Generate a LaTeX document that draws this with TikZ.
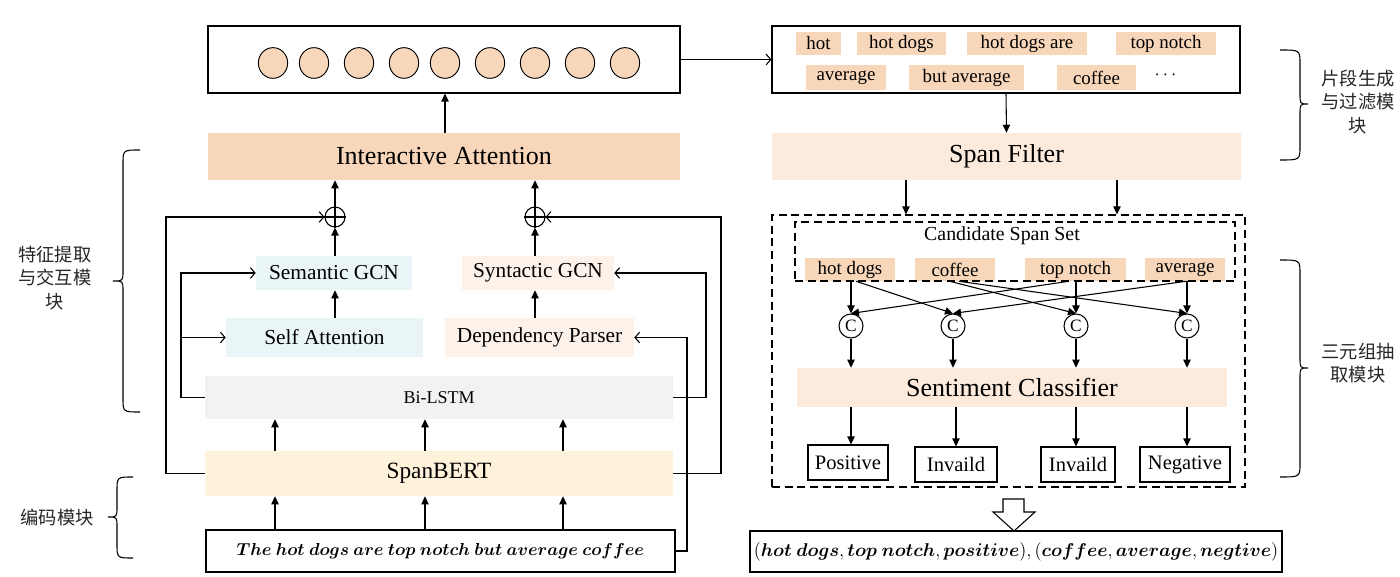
\RequirePackage{fix-cm}
\documentclass[tikz,border=0pt]{standalone}
\usepackage{amsmath}
\usepackage{bm}
\usepackage{fontspec}
\setmainfont{Liberation Serif}
\newfontfamily\cjk{Noto Sans CJK SC}
\usetikzlibrary{arrows.meta,shapes.geometric}
\definecolor{peach}{HTML}{F8D6BA}
\definecolor{peachL}{HTML}{FCEADC}
\definecolor{blueL}{HTML}{EAF5F8}
\definecolor{peachXL}{HTML}{FDF2E9}
\definecolor{grayL}{HTML}{F2F2F2}
\definecolor{yellowL}{HTML}{FFF2DB}
\newcommand\bx[7]{\node[#6,minimum width={(#4-#2)*0.75pt},minimum height={(#5-#3)*0.75pt},inner sep=0pt] (#1) at ({(#2+#4)/2},{(#3+#5)/2}) {#7};}
\newcommand\mybrc[6]{\draw[brc] (#1,#4) .. controls (#2,#4) .. (#2,#4+14) -- (#2,#5-10) .. controls (#2,#5) .. (#3,#5) .. controls (#2,#5) .. (#2,#5+10) -- (#2,#6-14) .. controls (#2,#6) .. (#1,#6);}
\tikzset{
 arr/.style={line width=0.8pt,-{Triangle[length=6pt,width=5.5pt]}},
 oarr/.style={line width=0.8pt,-{Straight Barb[length=3.5pt,width=8pt]}},
 big/.style={font=\fontsize{19.5}{23}\selectfont},
 mid/.style={font=\fontsize{16}{19}\selectfont},
 outbox/.style={draw,line width=0.8pt},
 chip/.style={fill=peach,font=\fontsize{14.2}{17}\selectfont},
 resbox/.style={draw,line width=0.8pt,font=\fontsize{15.4}{18}\selectfont},
 dashbox/.style={draw,line width=0.8pt,dash pattern=on 6pt off 3.5pt},
 cjkt/.style={font=\fontsize{13.7}{17.5}\selectfont\cjk,align=center,text=black!85},
 cc/.style={circle,draw,line width=0.8pt,minimum size=18pt,inner sep=0pt,fill=white,font=\fontsize{13}{15}\selectfont},
 dot/.style={ellipse,draw,line width=0.7pt,fill=peach,minimum width=22pt,minimum height=23pt,inner sep=0pt},
 oplus/.style={circle,draw,line width=0.8pt,minimum size=15pt,inner sep=0pt},
 brc/.style={line width=0.8pt},
}
\begin{document}
\begin{tikzpicture}[x=0.75pt,y=-0.75pt]
\useasboundingbox (0,0) rectangle (1400,577);
% ---------- left column ----------
\bx{top}{208}{26}{680}{93}{outbox}{}
\foreach \i/\x in {1/273,2/314,3/359,4/404,5/445,6/490,7/535,8/580,9/625}
  \node[dot] (d\i) at (\x,63) {};
\bx{ia}{208}{133}{680}{180}{fill=peach,big}{Interactive Attention}
\node[oplus] (p1) at (335,217) {};
\draw[line width=0.8pt] (p1.north)--(p1.south) (p1.west)--(p1.east);
\node[oplus] (p2) at (535,217) {};
\draw[line width=0.8pt] (p2.north)--(p2.south) (p2.west)--(p2.east);
\bx{sem}{256}{256}{412}{290}{fill=blueL,mid}{Semantic GCN}
\bx{syn}{462}{256}{614}{290}{fill=peachXL,mid}{Syntactic GCN}
\bx{sa}{226}{318}{423}{357}{fill=blueL,mid}{Self Attention}
\bx{dep}{445}{318}{634}{357}{fill=peachXL,mid}{Dependency Parser}
\bx{bil}{205}{376}{673}{419}{fill=grayL,font=\fontsize{13.5}{16}\selectfont}{Bi-LSTM}
\bx{sb}{205}{451}{673}{496}{fill=yellowL,font=\fontsize{17.5}{21}\selectfont}{SpanBERT}
\bx{sent}{206}{530}{675}{572}{outbox,font=\fontsize{13}{15}\selectfont}{$\bm{The\ hot\ dogs\ are\ top\ notch\ but\ average\ coffee}$}
\coordinate (k1) at (275,0);
\coordinate (k2) at (425,0);
\coordinate (k3) at (563,0);
\foreach \k in {k1,k2,k3}{
  \draw[arr] (sent.north -| \k) -- (sb.south -| \k);
  \draw[arr] (sb.north -| \k) -- (bil.south -| \k);
}
\draw[arr] (ia.north -| d5) -- (top.south -| d5);
\draw[arr] (p1.north) -- (p1.north |- ia.south);
\draw[arr] (p2.north) -- (p2.north |- ia.south);
\draw[arr] (sem.north -| p1) -- (p1.south);
\draw[arr] (syn.north -| p2) -- (p2.south);
\draw[arr] (sa.north -| p1) -- (sem.south -| p1);
\draw[arr] (dep.north -| p2) -- (syn.south -| p2);
\coordinate (lo) at (166,0);
\coordinate (li) at (181,0);
\coordinate (ri) at (706,0);
\coordinate (di) at (687,0);
\coordinate (ro) at (721,0);
\draw[oarr] (sb.west) -- (sb.west -| lo) |- (p1.west);
\draw[oarr] (sb.east) -- (sb.east -| ro) |- (p2.east);
\draw[oarr] (bil.west) -- (bil.west -| li) |- (sem.west);
\draw[oarr] (li |- sa.west) -- (sa.west);
\draw[oarr] (bil.east) -- (bil.east -| ri) |- (syn.east);
\draw[oarr] (sent.east) -- (sent.east -| di) |- (dep.east);
% ---------- right column ----------
\bx{spans}{772}{26}{1240}{93}{outbox}{}
\draw[oarr] (top.east) -- (spans.west);
\bx{s1}{796}{32}{841}{55}{chip}{hot}
\bx{s2}{857}{32}{946}{55}{chip}{hot dogs}
\bx{s3}{967}{32}{1087}{55}{chip}{hot dogs are}
\bx{s4}{1116}{32}{1216}{55}{chip}{top notch}
\bx{s5}{806}{65}{886}{90}{chip}{average}
\bx{s6}{909}{65}{1024}{90}{chip}{but average}
\bx{s7}{1057}{65}{1136}{90}{chip}{coffee}
\node[font=\fontsize{14}{16}\selectfont] (more) at (1167,75) {$\cdots$};
\bx{filt}{772}{133}{1241}{180}{fill=peachL,big}{Span Filter}
\draw[arr] (spans.south) -- (filt.north);
\bx{tri}{772}{215}{1245}{487}{dashbox}{}
\coordinate (f1) at (906,0);
\coordinate (f2) at (1117,0);
\draw[arr] (filt.south -| f1) -- (tri.north -| f1);
\draw[arr] (filt.south -| f2) -- (tri.north -| f2);
\bx{hd}{805}{258}{895}{281}{chip}{hot dogs}
\bx{cf}{915}{258}{995}{281}{chip}{coffee}
\bx{tn}{1025}{258}{1126}{281}{chip}{top notch}
\bx{av}{1145}{258}{1225}{281}{chip}{average}
\bx{cand}{795}{222}{1235}{281}{dashbox}{}
\node[font=\fontsize{14.9}{17}\selectfont] (candt) at (1002,236) {Candidate Span Set};
\node[cc] (c1) at (851,326) {C};
\node[cc] (c2) at (953,326) {C};
\node[cc] (c3) at (1076,326) {C};
\node[cc] (c4) at (1187,326) {C};
\draw[arr] (hd.south -| c1) -- (c1.north);
\draw[arr] ([xshift=4.5pt]hd.south) -- (c2.north);
\draw[arr] ([xshift=-5pt]tn.south) -- (c1.north);
\draw[arr] (tn.south -| c3) -- (c3.north);
\draw[arr] ([xshift=-4pt]cf.south) -- (c3.north);
\draw[arr] ([xshift=3pt]cf.south) -- (c4.north);
\draw[arr] (av.south -| c4) -- (c4.north);
\draw[arr] ([xshift=1pt]av.south) -- (c2.north);
\bx{sc}{797}{368}{1227}{407}{fill=peachL,big}{Sentiment Classifier}
\foreach \c in {c1,c2,c3,c4}
  \draw[arr] (\c.south) -- (sc.north -| \c);
\bx{pos}{808}{445}{888}{480}{resbox}{Positive}
\bx{inv1}{915}{447}{997}{482}{resbox}{Invaild}
\bx{inv2}{1041}{447}{1115}{482}{resbox}{Invaild}
\bx{neg}{1140}{447}{1230}{482}{resbox}{Negative}
\draw[arr] (sc.south -| c1) -- (pos.north -| c1);
\draw[arr] (sc.south -| inv1) -- (inv1.north);
\draw[arr] (sc.south -| c3) -- (inv2.north -| c3);
\draw[arr] (sc.south -| c4) -- (neg.north -| c4);
\bx{res}{750}{531}{1282}{572}{outbox,font=\fontsize{13.9}{16}\selectfont}{$(\bm{hot\ dogs},\bm{top\ notch},\bm{positive}),(\bm{coffee},\bm{average},\bm{negtive})$}
\draw[line width=0.8pt,fill=white] (1003,499) -- (1024,499) -- (1024,512) -- (1035,512) -- (1014,531) -- (993,512) -- (1003,512) -- cycle;
% ---------- braces and module labels ----------
\mybrc{140}{123}{113}{150}{281}{412}
\mybrc{133}{117}{108}{477}{517}{558}
\mybrc{1280}{1300}{1308}{50}{104}{160}
\mybrc{1280}{1300}{1308}{260}{368}{477}
\node[cjkt] (m1) at (55,278) {特征提取\\与交互模\\块};
\node[cjkt] (m2) at (57,518) {编码模块};
\node[cjkt] (m3) at (1358,102) {片段生成\\与过滤模\\块};
\node[cjkt] (m4) at (1358,363) {三元组抽\\取模块};
\end{tikzpicture}
\end{document}
